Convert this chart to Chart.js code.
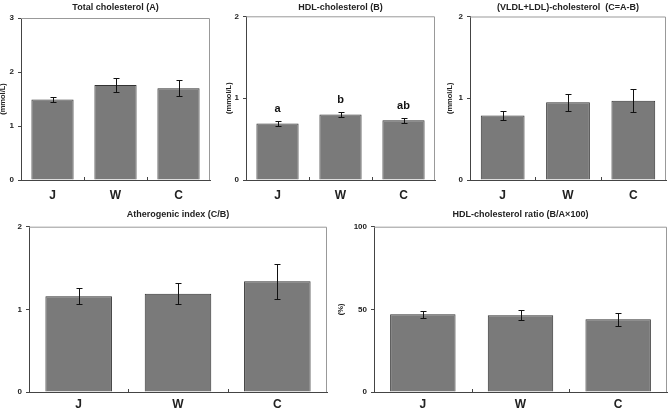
<!DOCTYPE html>
<html>
<head>
<meta charset="utf-8">
<script src="https://cdn.jsdelivr.net/npm/chart.js@4/dist/chart.umd.min.js"></script>
<style>
    html, body { margin: 0; padding: 0; background: #fff; }
    body { width: 669px; height: 414px; position: relative; overflow: hidden; }
    .panel { position: absolute; }
</style>
</head>
<body>
<canvas id="total" class="panel" width="216" height="200" style="left:-2px;top:0"></canvas>
<canvas id="hdl" class="panel" width="216" height="200" style="left:224px;top:0"></canvas>
<canvas id="ldl" class="panel" width="224" height="200" style="left:445px;top:0"></canvas>
<canvas id="athero" class="panel" width="335" height="209" style="left:0;top:205px"></canvas>
<canvas id="ratio" class="panel" width="333" height="209" style="left:336px;top:205px"></canvas>
<script>
// groups on the x axis
const groups = ['J', 'W', 'C'];

// Total cholesterol (A), mmol/L
const totalChol = [1.49, 1.76, 1.70];
const totalCholErr = [0.045, 0.13, 0.145];

// HDL-cholesterol (B), mmol/L
const hdlChol = [0.69, 0.80, 0.73];
const hdlCholErr = [0.03, 0.035, 0.03];
const hdlLetters = ['a', 'b', 'ab'];

// (VLDL+LDL)-cholesterol (C=A-B), mmol/L
const ldlChol = [0.79, 0.95, 0.97];
const ldlCholErr = [0.053, 0.108, 0.144];

// Atherogenic index (C/B)
const atheroIdx = [1.16, 1.19, 1.34];
const atheroIdxErr = [0.093, 0.125, 0.21];

// HDL-cholesterol ratio (B/A x 100), %
const hdlRatio = [47.0, 46.4, 44.0];
const hdlRatioErr = [2.1, 3.1, 3.9];

const FONT = "'Liberation Sans', Arial, sans-serif";
const barFill = '#7a7a7a';
const barEdge = '#333333';
const axisColor = '#444444';
const frameColor = '#999999';

// error bars, significance letters, top/right frame, small ticks between groups
const panelDecor = {
    id: 'panelDecor',
    afterDatasetsDraw(chart, args, opts) {
        const { ctx, chartArea: area, scales: { x, y } } = chart;
        const bars = chart.getDatasetMeta(0).data;
        const values = chart.data.datasets[0].data;

        ctx.save();
        ctx.lineWidth = 1;

        ctx.strokeStyle = frameColor;
        ctx.beginPath();
        ctx.moveTo(area.left, area.top + 0.5);
        ctx.lineTo(area.right - 0.5, area.top + 0.5);
        ctx.lineTo(area.right - 0.5, area.bottom);
        ctx.stroke();

        ctx.strokeStyle = axisColor;
        for (let i = 1; i < values.length; i++) {
            const px = Math.round((x.getPixelForValue(i - 1) + x.getPixelForValue(i)) / 2) + 0.5;
            ctx.beginPath();
            ctx.moveTo(px, area.bottom);
            ctx.lineTo(px, area.bottom - 3);
            ctx.stroke();
        }

        ctx.strokeStyle = '#111';
        ctx.fillStyle = '#111';
        ctx.font = `bold 11px ${FONT}`;
        ctx.textAlign = 'center';
        ctx.textBaseline = 'middle';
        bars.forEach((bar, i) => {
            const hi = Math.round(y.getPixelForValue(values[i] + opts.errors[i])) + 0.5;
            const lo = Math.round(y.getPixelForValue(values[i] - opts.errors[i])) + 0.5;
            const cx = Math.round(bar.x) + 0.5;
            ctx.beginPath();
            ctx.moveTo(cx, hi);
            ctx.lineTo(cx, lo);
            ctx.moveTo(cx - 3, hi);
            ctx.lineTo(cx + 3, hi);
            ctx.moveTo(cx - 3, lo);
            ctx.lineTo(cx + 3, lo);
            ctx.stroke();

            if (opts.letters) {
                ctx.fillText(opts.letters[i], bar.x, hi - 13);
            }
        });
        ctx.restore();
    }
};

function barPanel(param) {
    const {
        id, values, errors, letters, title, yTitle, yMax, yStep,
        yWidth, xHeight, xPad, titlePad, rightPad
    } = param;

    return new Chart(document.getElementById(id), {
        type: 'bar',
        data: {
            labels: groups,
            datasets: [{
                data: values,
                backgroundColor: barFill,
                borderColor: barEdge,
                borderWidth: 1,
                barPercentage: 0.67,
                categoryPercentage: 1
            }]
        },
        options: {
            responsive: false,
            animation: false,
            layout: { padding: { right: rightPad } },
            plugins: {
                legend: { display: false },
                tooltip: { enabled: false },
                title: {
                    display: true,
                    text: title,
                    fullSize: false,
                    color: '#222',
                    font: { family: FONT, size: 9, weight: 'bold', lineHeight: 1.2 },
                    padding: titlePad
                },
                panelDecor: { errors, letters }
            },
            scales: {
                x: {
                    grid: { display: false, drawTicks: false },
                    border: { color: axisColor, width: 1 },
                    ticks: {
                        color: '#222',
                        padding: xPad,
                        font: { family: FONT, size: 12, weight: 'bold' }
                    },
                    afterFit: (scale) => { scale.height = xHeight; }
                },
                y: {
                    min: 0,
                    max: yMax,
                    grid: { drawOnChartArea: false, tickLength: 3, color: axisColor },
                    border: { color: axisColor, width: 1 },
                    ticks: {
                        stepSize: yStep,
                        color: '#222',
                        padding: 4,
                        font: { family: FONT, size: 8, weight: 'bold' }
                    },
                    title: {
                        display: !!yTitle,
                        text: yTitle,
                        color: '#222',
                        padding: 0,
                        font: { family: FONT, size: 7.5, weight: 'bold' }
                    },
                    afterFit: (scale) => { scale.width = yWidth; }
                }
            }
        },
        plugins: [panelDecor]
    });
}

barPanel({
    id: 'total', values: totalChol, errors: totalCholErr,
    title: 'Total cholesterol (A)', yTitle: '(mmol/L)', yMax: 3, yStep: 1,
    yWidth: 23, xHeight: 20, xPad: 8, titlePad: { top: 2, bottom: 5.2 }, rightPad: 4
});

barPanel({
    id: 'hdl', values: hdlChol, errors: hdlCholErr, letters: hdlLetters,
    title: 'HDL-cholesterol (B)', yTitle: '(mmol/L)', yMax: 2, yStep: 1,
    yWidth: 22, xHeight: 20, xPad: 8, titlePad: { top: 2, bottom: 3.5 }, rightPad: 5
});

barPanel({
    id: 'ldl', values: ldlChol, errors: ldlCholErr,
    title: '(VLDL+LDL)-cholesterol  (C=A-B)', yTitle: '(mmol/L)', yMax: 2, yStep: 1,
    yWidth: 25, xHeight: 20, xPad: 8, titlePad: { top: 2, bottom: 3.7 }, rightPad: 3
});

barPanel({
    id: 'athero', values: atheroIdx, errors: atheroIdxErr,
    title: 'Atherogenic index (C/B)', yMax: 2, yStep: 1,
    yWidth: 29, xHeight: 22, xPad: 5, titlePad: { top: 4.6, bottom: 6.3 }, rightPad: 8
});

barPanel({
    id: 'ratio', values: hdlRatio, errors: hdlRatioErr,
    title: 'HDL-cholesterol ratio (B/A\u00d7100)', yTitle: '(%)', yMax: 100, yStep: 50,
    yWidth: 38, xHeight: 22, xPad: 5, titlePad: { top: 4.6, bottom: 6.3 }, rightPad: 2
});
</script>
</body>
</html>
